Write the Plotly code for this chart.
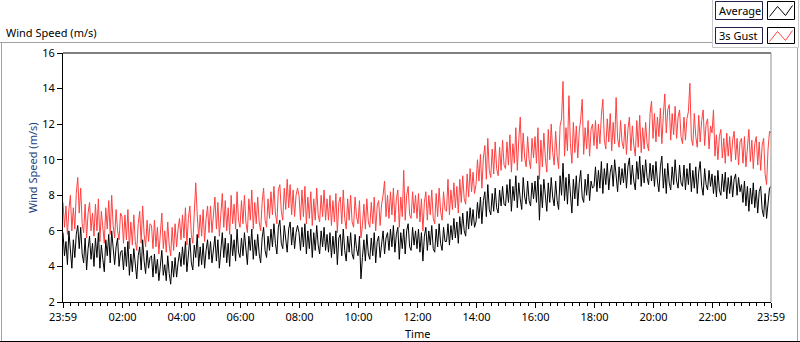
import pandas as pd
import plotly.graph_objects as go

# ---------------- data (3-minute samples, 23:59 -> 23:59) ----------------
average = [
    5.9, 4.6, 5.4, 4.1, 6.0, 4.8, 3.9, 5.5, 4.5, 5.8, 6.3, 5.0, 6.2, 4.7, 4.2, 5.6, 3.8, 5.0, 5.7, 4.4,
    5.3, 4.0, 5.6, 4.5, 5.9, 3.9, 5.2, 4.4, 3.7, 5.5, 4.6, 5.8, 4.2, 6.0, 4.9, 4.1, 5.1, 5.6, 4.0, 4.8,
    4.9, 3.8, 5.1, 4.0, 5.4, 3.5, 4.7, 3.7, 5.0, 3.9, 3.3, 4.6, 5.1, 3.8, 5.5, 4.3, 3.6, 4.9, 3.9, 4.5,
    4.6, 3.4, 4.7, 3.6, 4.4, 3.2, 4.3, 4.9, 3.5, 4.1, 3.2, 4.6, 3.6, 3.0, 4.3, 3.4, 4.5, 3.4, 4.2, 4.8,
    4.0, 5.1, 4.1, 5.4, 3.7, 4.9, 5.6, 4.2, 3.8, 5.2, 4.5, 5.8, 4.0, 5.1, 4.1, 5.3, 3.9, 4.9, 5.5, 4.4,
    5.4, 4.2, 5.1, 5.7, 4.3, 5.5, 3.9, 5.2, 5.9, 4.5, 5.6, 4.2, 5.3, 4.0, 5.8, 4.6, 5.5, 4.3, 6.1, 4.8,
    4.5, 5.6, 4.6, 5.9, 4.8, 4.1, 5.7, 4.9, 6.1, 4.4, 5.5, 4.6, 5.8, 4.7, 4.2, 5.6, 6.2, 4.9, 4.5, 5.7,
    4.9, 6.1, 5.1, 6.4, 5.3, 4.7, 6.2, 6.6, 5.3, 5.0, 6.3, 5.4, 4.8, 6.1, 6.5, 5.2, 6.2, 5.0, 5.9, 6.3,
    5.9, 4.9, 6.2, 5.1, 6.4, 4.7, 6.0, 5.0, 6.1, 4.5, 5.9, 4.9, 6.3, 5.2, 4.7, 6.0, 5.1, 6.2, 4.9, 5.8,
    4.8, 5.9, 4.5, 5.7, 4.7, 6.0, 4.1, 5.6, 5.8, 4.6, 6.1, 4.9, 4.3, 5.7, 4.8, 5.9, 4.7, 4.4, 5.8, 5.0,
    4.6, 5.7, 3.3, 4.5, 5.5, 4.3, 5.8, 4.7, 4.4, 5.6, 4.6, 5.9, 4.2, 5.4, 5.7, 4.5, 5.5, 6.0, 4.7, 5.6,
    5.9, 4.9, 6.1, 5.1, 6.3, 4.8, 5.8, 6.2, 4.4, 5.9, 5.0, 6.1, 4.7, 6.0, 6.4, 5.1, 4.9, 6.2, 5.2, 6.0,
    5.0, 6.1, 4.8, 5.9, 4.3, 5.7, 6.2, 4.9, 6.0, 5.2, 6.3, 5.0, 4.8, 6.1, 5.1, 6.4, 5.3, 4.9, 6.2, 5.4,
    5.4, 6.4, 5.2, 6.3, 5.5, 6.7, 5.6, 6.5, 5.3, 6.8, 5.8, 7.0, 6.0, 5.7, 7.1, 6.1, 7.3, 6.3, 7.2, 6.2,
    6.5, 7.6, 6.7, 7.9, 6.4, 7.7, 8.2, 6.8, 8.6, 7.2, 6.9, 8.1, 7.1, 8.4, 7.3, 7.0, 8.3, 7.4, 8.5, 7.5,
    7.4, 8.6, 7.6, 8.9, 7.1, 8.5, 7.7, 9.1, 7.3, 8.7, 7.8, 7.2, 9.0, 7.9, 7.5, 8.8, 7.7, 7.4, 8.7, 7.8,
    8.8, 7.6, 9.1, 6.6, 8.6, 7.3, 8.9, 7.8, 7.1, 8.7, 7.6, 9.0, 7.9, 7.4, 8.8, 7.7, 7.2, 9.1, 8.0, 9.8,
    7.7, 9.0, 7.5, 9.2, 8.0, 7.0, 8.9, 7.8, 9.1, 7.4, 8.7, 9.4, 7.9, 7.6, 8.9, 8.0, 9.2, 7.7, 8.8, 8.4,
    8.5, 9.6, 8.2, 9.4, 8.4, 9.9, 8.1, 9.5, 8.6, 9.8, 8.3, 9.3, 9.7, 8.5, 10.0, 8.8, 8.2, 9.6, 8.6, 9.5,
    8.7, 9.8, 8.4, 9.6, 10.1, 8.6, 9.7, 8.8, 8.3, 9.9, 8.9, 10.2, 8.5, 9.7, 8.7, 10.0, 9.0, 8.6, 9.8, 8.8,
    9.7, 8.5, 9.9, 8.8, 8.2, 9.6, 10.2, 8.4, 9.5, 8.1, 9.8, 8.7, 8.3, 9.6, 8.6, 10.0, 8.8, 8.4, 9.7, 8.7,
    8.5, 9.7, 8.3, 9.5, 8.6, 9.8, 8.2, 9.4, 8.4, 9.6, 8.1, 9.3, 9.9, 8.5, 8.0, 9.5, 8.6, 8.3, 9.4, 8.5,
    9.2, 8.1, 9.1, 7.9, 9.4, 8.3, 8.0, 9.2, 8.2, 9.3, 7.8, 9.0, 8.1, 9.1, 7.9, 8.9, 9.2, 8.0, 9.0, 8.2,
    8.6, 7.6, 8.8, 7.4, 8.5, 7.1, 8.4, 7.5, 8.7, 7.3, 8.3, 7.0, 8.2, 8.5, 7.2, 6.8, 8.1, 6.7, 7.8, 8.4,
    8.5,
]

gust = [
    7.6, 6.2, 7.4, 5.8, 7.2, 8.0, 6.0, 7.3, 6.1, 8.1, 9.0, 7.0, 8.4, 6.4, 5.9, 7.5, 5.6, 7.0, 7.6, 6.0,
    7.0, 5.7, 7.5, 6.0, 7.8, 5.4, 7.1, 5.9, 5.3, 7.3, 6.1, 7.7, 5.8, 8.0, 6.3, 5.6, 7.2, 6.0, 5.5, 7.0,
    6.8, 5.3, 6.9, 5.5, 7.2, 5.0, 6.5, 5.2, 6.9, 5.4, 4.9, 6.4, 7.1, 5.3, 7.4, 5.8, 5.1, 6.6, 5.4, 6.4,
    6.3, 5.0, 6.6, 5.1, 6.2, 4.7, 6.1, 7.0, 5.0, 6.0, 4.8, 6.5, 5.2, 4.6, 6.2, 4.9, 6.4, 5.1, 6.1, 6.7,
    5.5, 6.9, 5.6, 7.3, 5.2, 6.7, 7.4, 5.8, 5.3, 7.0, 8.7, 6.9, 5.6, 6.9, 5.7, 7.2, 5.4, 6.7, 7.4, 5.9,
    7.4, 5.9, 7.1, 7.9, 6.1, 7.6, 5.7, 7.3, 8.1, 6.2, 7.7, 6.0, 7.3, 5.8, 8.0, 6.4, 7.5, 6.1, 8.2, 6.6,
    6.2, 7.7, 6.4, 8.0, 6.5, 5.9, 7.8, 6.6, 8.3, 6.1, 7.6, 6.4, 7.9, 6.5, 6.0, 7.6, 8.4, 6.6, 6.2, 7.8,
    6.7, 8.2, 6.9, 8.5, 7.0, 6.4, 8.3, 8.6, 7.1, 6.6, 8.4, 7.2, 8.9, 7.3, 8.6, 6.9, 8.3, 6.8, 8.0, 8.4,
    8.0, 6.6, 8.3, 6.8, 8.5, 6.4, 7.9, 6.7, 8.2, 6.3, 7.8, 6.6, 8.4, 6.9, 6.5, 8.0, 6.8, 8.3, 6.6, 7.8,
    6.6, 8.0, 6.3, 7.7, 6.5, 8.1, 5.9, 7.6, 7.9, 6.4, 8.3, 6.7, 6.1, 7.8, 6.6, 8.0, 6.5, 6.2, 7.9, 6.8,
    6.4, 7.7, 5.6, 6.3, 7.5, 6.1, 7.8, 6.5, 6.2, 7.6, 6.4, 7.9, 6.0, 7.4, 7.7, 6.3, 7.5, 8.0, 8.8, 6.8,
    8.0, 6.7, 8.2, 6.9, 8.4, 6.5, 7.8, 8.3, 6.2, 7.9, 6.8, 9.4, 6.6, 8.0, 8.5, 6.9, 6.7, 8.2, 7.0, 8.0,
    6.7, 8.1, 6.5, 7.8, 6.0, 7.6, 8.2, 6.6, 8.0, 6.9, 8.3, 6.7, 6.4, 8.1, 6.8, 8.4, 7.1, 6.6, 8.2, 7.2,
    7.1, 8.9, 6.9, 8.3, 7.2, 8.7, 7.3, 8.5, 7.0, 8.9, 7.6, 9.1, 7.8, 7.5, 9.2, 7.9, 9.5, 8.2, 9.3, 8.1,
    8.6, 10.0, 8.8, 10.3, 8.4, 10.1, 10.8, 8.9, 11.2, 9.4, 9.0, 10.6, 9.2, 11.0, 9.5, 9.1, 10.7, 9.4, 11.1, 9.7,
    9.5, 11.0, 9.7, 11.4, 9.3, 10.9, 9.8, 11.8, 9.4, 11.1, 12.4, 9.9, 11.5, 10.1, 9.6, 11.3, 10.0, 9.5, 11.2, 10.1,
    11.3, 9.8, 11.8, 8.9, 11.1, 9.6, 11.5, 10.1, 9.3, 11.7, 10.0, 12.0, 10.4, 9.7, 11.6, 10.2, 9.5, 11.9, 12.3, 14.4,
    10.2, 11.8, 10.5, 13.6, 10.9, 9.8, 12.1, 10.4, 11.9, 10.1, 11.6, 12.3, 13.4, 10.3, 11.8, 10.6, 12.2, 10.2, 11.7, 12.0,
    10.8, 12.2, 10.6, 12.0, 10.9, 12.5, 13.4, 11.1, 10.6, 12.3, 11.0, 12.6, 10.5, 12.1, 10.9, 13.5, 11.2, 10.7, 12.2, 11.0,
    10.6, 12.0, 10.3, 11.7, 12.4, 10.5, 11.9, 10.8, 10.2, 12.2, 10.7, 12.5, 10.4, 11.8, 10.6, 12.1, 10.9, 10.5, 12.6, 13.3,
    11.2, 12.6, 11.0, 12.4, 11.3, 12.9, 10.9, 12.5, 13.7, 11.5, 12.8, 13.1, 11.1, 12.6, 11.4, 13.0, 11.2, 12.4, 12.8, 11.3,
    10.9, 12.4, 11.1, 12.3, 12.7, 14.3, 11.2, 10.8, 12.6, 11.3, 10.7, 12.5, 11.0, 12.2, 12.8, 10.8, 12.0, 12.3, 10.6, 11.9,
    11.5, 12.8, 10.2, 11.4, 10.0, 11.3, 11.7, 10.1, 11.2, 9.8, 11.5, 10.2, 11.3, 9.9, 11.1, 11.6, 10.0, 11.2, 9.7, 11.0,
    11.2, 9.8, 11.3, 9.6, 11.0, 11.7, 9.9, 11.1, 9.5, 10.9, 11.3, 9.7, 11.0, 9.4, 10.8, 11.2, 9.2, 8.6, 10.6, 11.6,
    11.5,
]

times = pd.date_range("2024-01-01 23:59", periods=len(average), freq="3min")

tick_times = ["2024-01-01 23:59", "2024-01-02 02:00", "2024-01-02 04:00",
              "2024-01-02 06:00", "2024-01-02 08:00", "2024-01-02 10:00",
              "2024-01-02 12:00", "2024-01-02 14:00", "2024-01-02 16:00",
              "2024-01-02 18:00", "2024-01-02 20:00", "2024-01-02 22:00",
              "2024-01-02 23:59"]
tick_labels = ["23:59", "02:00", "04:00", "06:00", "08:00", "10:00", "12:00",
               "14:00", "16:00", "18:00", "20:00", "22:00", "23:59"]
y_ticks = [2, 4, 6, 8, 10, 12, 14, 16]

# ---------------- layout helpers (pixel -> paper) ----------------
W, H = 800, 342
L, R, T, B = 63, 771, 53, 302
def px(x):
    return (x - L) / (R - L)
def py(y):
    return (B - y) / (B - T)

FONT = "Noto Sans, Liberation Sans, Arial, sans-serif"

fig = go.Figure()
fig.add_trace(go.Scatter(x=times[:len(gust)], y=gust, mode="lines", name="3s Gust",
                         line=dict(color="#ff4040", width=1)))
fig.add_trace(go.Scatter(x=times, y=average, mode="lines", name="Average",
                         line=dict(color="#000000", width=1)))

shapes = []
def line(x0, y0, x1, y1, color, width=1):
    shapes.append(dict(type="line", xref="paper", yref="paper",
                       x0=px(x0), y0=py(y0), x1=px(x1), y1=py(y1),
                       line=dict(color=color, width=width)))
def rect(x0, y0, x1, y1, color, fill="rgba(0,0,0,0)", width=1):
    shapes.append(dict(type="rect", xref="paper", yref="paper",
                       x0=px(x0), y0=py(y0), x1=px(x1), y1=py(y1),
                       line=dict(color=color, width=width), fillcolor=fill))

# outer frame
line(0, 42.5, 713, 42.5, "#a0a0a0")
line(1.5, 42, 1.5, 342, "#a0a0a0")
line(797.5, 47, 797.5, 342, "#a0a0a0")
line(0, 341.5, 800, 341.5, "#000000")
# legend panel
rect(712.5, -1, 798.5, 47.5, "#c8c8c8", "#ffffff")
# plot border (top black, right grey)
line(L, T, R, T, "#000000")
line(R, T, R, B, "#909090")
# legend boxes
rect(715.5, 1.5, 762.5, 19.5, "#20204a", "#ffffff")
rect(767.5, 1.5, 794.5, 19.5, "#000000", "#ffffff")
rect(715.5, 27.5, 762.5, 43.5, "#20204a", "#ffffff")
rect(767.5, 27.5, 794.5, 43.5, "#000000", "#ffffff")

def zig(x0, y0, color):
    pts = [(x0 + 2, y0 + 15), (x0 + 10, y0 + 5), (x0 + 18, y0 + 14), (x0 + 25, y0 + 4)]
    path = "M " + " L ".join(f"{px(a)},{py(b)}" for a, b in pts)
    shapes.append(dict(type="path", xref="paper", yref="paper", path=path,
                       line=dict(color=color, width=1)))
zig(767.5, 1.5, "#000000")
zig(767.5, 26.5, "#ff4040")

annotations = [
    dict(text="Wind Speed (m/s)", x=px(4), y=py(32), xref="paper", yref="paper",
         xanchor="left", yanchor="middle", showarrow=False,
         font=dict(family=FONT, size=11, color="#000000")),
    dict(text="Wind Speed (m/s)", x=px(32), y=py(168), xref="paper", yref="paper",
         xanchor="center", yanchor="middle", showarrow=False, textangle=-90,
         font=dict(family=FONT, size=11, color="#1c3e78")),
    dict(text="Time", x=px(417), y=py(333), xref="paper", yref="paper",
         xanchor="center", yanchor="middle", showarrow=False,
         font=dict(family=FONT, size=11, color="#000000")),
    dict(text="Average", x=px(717), y=py(10.5), xref="paper", yref="paper",
         xanchor="left", yanchor="middle", showarrow=False,
         font=dict(family=FONT, size=11, color="#000000")),
    dict(text="3s Gust", x=px(717), y=py(35.5), xref="paper", yref="paper",
         xanchor="left", yanchor="middle", showarrow=False,
         font=dict(family=FONT, size=11, color="#000000")),
]

fig.update_layout(
    width=W, height=H,
    margin=dict(l=L, r=W - R, t=T, b=H - B, pad=0),
    paper_bgcolor="#ffffff", plot_bgcolor="#ffffff",
    showlegend=False,
    font=dict(family=FONT, size=11, color="#000000"),
    shapes=shapes, annotations=annotations,
    xaxis=dict(
        type="date",
        range=[tick_times[0], tick_times[-1]],
        tickvals=tick_times, ticktext=tick_labels,
        ticks="outside", ticklen=5, tickwidth=1, tickcolor="#000000",
        showline=True, linecolor="#000000", linewidth=1,
        showgrid=False, zeroline=False,
        minor=dict(ticks="outside", ticklen=3, tickcolor="#000000",
                   dtick=15 * 60 * 1000, tick0="2024-01-02 00:00", showgrid=False),
        tickfont=dict(family=FONT, size=11, color="#000000"),
    ),
    yaxis=dict(
        range=[2, 16], tickvals=y_ticks,
        ticks="outside", ticklen=5, tickwidth=1, tickcolor="#000000",
        showline=True, linecolor="#000000", linewidth=1,
        showgrid=False, zeroline=False,
        tickfont=dict(family=FONT, size=11, color="#000000"),
    ),
)

fig.write_html("out.html",
               config={"displayModeBar": False},
               post_script="document.body.style.margin='0px';document.body.style.overflow='hidden';")
